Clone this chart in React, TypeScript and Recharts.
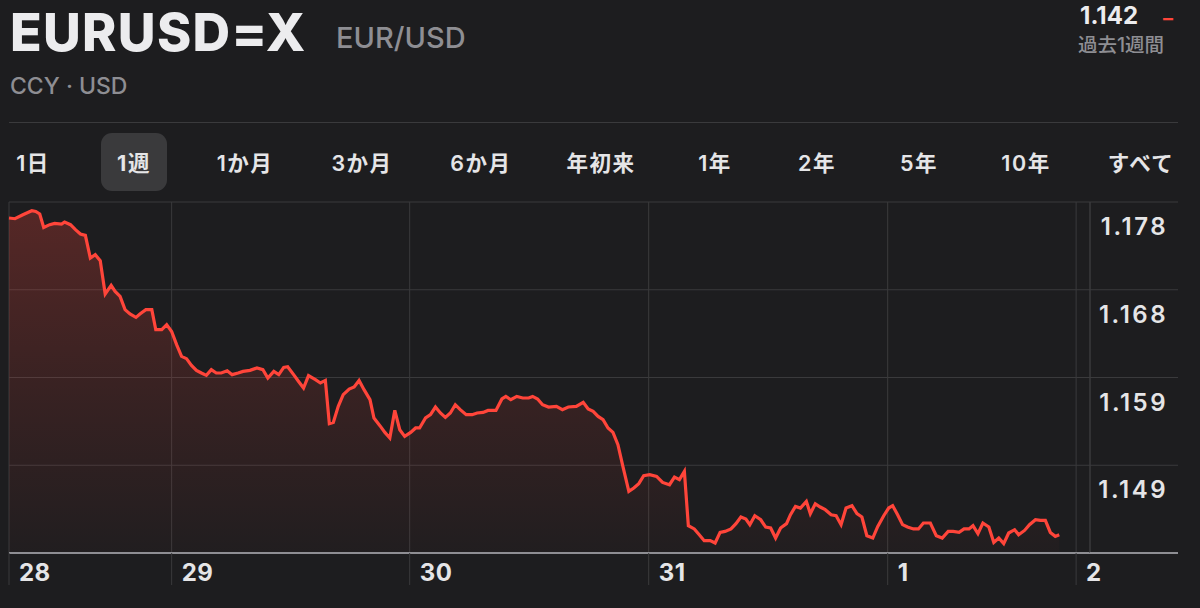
import { AreaChart, Area, XAxis, YAxis, CartesianGrid } from "recharts"

// hours since the first quote (28th, early morning)
const hours = [
  0.0, 0.6, 1.4, 2.3, 2.7, 3.1, 3.5, 4.1, 4.6, 5.3, 5.6, 6.2, 6.7, 7.2, 7.7, 8.2, 8.7, 9.2, 9.7, 10.3,
  10.7, 11.2, 11.7, 12.2, 12.8, 13.2, 13.8, 14.4, 14.8, 15.4, 15.9, 16.4, 16.9, 17.4, 17.9, 18.4, 18.9, 19.4, 19.9, 20.4,
  20.9, 21.4, 22.0, 22.5, 23.1, 23.6, 24.3, 25.0, 25.6, 26.1, 26.7, 27.2, 27.7, 28.1, 28.7, 29.2, 29.7, 30.2, 30.9, 31.4,
  31.9, 32.3, 32.7, 33.2, 33.7, 34.3, 34.8, 35.3, 35.8, 36.4, 36.8, 37.4, 37.9, 38.4, 38.9, 39.4, 39.9, 40.5, 41.0, 41.4,
  42.0, 42.5, 43.0, 43.5, 44.0, 44.5, 45.0, 45.5, 46.1, 46.7, 47.2, 47.8, 48.3, 49.1, 49.7, 50.1, 50.6, 51.2, 51.8, 52.4,
  52.8, 53.3, 53.8, 54.4, 55.2, 55.8, 56.4, 57.2, 57.9, 58.4, 58.9, 59.4, 59.9, 60.4, 60.9, 61.4, 61.9, 62.5, 63.0, 63.5,
  64.0, 64.6, 65.3, 65.9, 66.6, 67.1, 67.6, 68.1, 68.5, 69.1, 69.6, 70.1, 70.7, 71.2, 71.7, 72.2, 72.8, 73.3, 73.8, 74.3,
  74.7, 75.2, 75.8, 76.3, 76.8, 77.3, 77.8, 78.4, 78.8, 79.3, 79.8, 80.4, 80.8, 81.3, 81.8, 82.3, 82.9, 83.4, 83.9, 84.4,
  85.0, 85.5, 86.0, 86.5, 87.1, 87.6, 88.2, 88.7, 89.1, 89.6, 90.1, 90.6, 91.2, 91.7, 92.2, 92.9, 93.5, 94.1, 94.7, 95.2,
  95.8, 96.3, 96.8, 97.2, 97.7, 98.2, 98.8, 99.3, 99.8, 100.3, 100.8, 101.4, 101.8, 102.4, 102.9, 103.5, 104.0, 104.5, 105.0, 105.5,
  105.9,
]

const rates = [
  1.17625, 1.17617, 1.17661, 1.17705, 1.17697, 1.17669, 1.17522, 1.17552, 1.17566, 1.17559, 1.17581, 1.17552, 1.17497, 1.1745, 1.17435, 1.17187, 1.17223, 1.17158, 1.16794, 1.16888,
  1.16822, 1.16767, 1.16622, 1.16575, 1.16538, 1.16575, 1.16622, 1.16622, 1.16403, 1.16403, 1.16458, 1.16384, 1.16239, 1.16111, 1.16086, 1.16012, 1.15958, 1.15929, 1.15903, 1.15965,
  1.15929, 1.15929, 1.15954, 1.15911, 1.15929, 1.15947, 1.15958, 1.15984, 1.15965, 1.15875, 1.15947, 1.15911, 1.15991, 1.15998, 1.15911, 1.15837, 1.15765, 1.159, 1.15856, 1.1582,
  1.15848, 1.15375, 1.15389, 1.15564, 1.15692, 1.15754, 1.15776, 1.15848, 1.15747, 1.15637, 1.15437, 1.15353, 1.15279, 1.15218, 1.1552, 1.15309, 1.15236, 1.15279, 1.15328, 1.15328,
  1.15437, 1.15473, 1.15557, 1.15492, 1.15444, 1.15492, 1.15582, 1.15528, 1.15473, 1.15473, 1.15492, 1.15498, 1.1552, 1.1552, 1.15645, 1.15673, 1.15637, 1.15673, 1.15656, 1.15656,
  1.15673, 1.15645, 1.15582, 1.15557, 1.15564, 1.15528, 1.15557, 1.15564, 1.15608, 1.15535, 1.15509, 1.15454, 1.15418, 1.15328, 1.15279, 1.15145, 1.14907, 1.14634, 1.14671, 1.14718,
  1.14806, 1.14817, 1.14798, 1.14732, 1.14707, 1.14791, 1.14762, 1.14853, 1.14259, 1.14223, 1.1416, 1.14095, 1.14095, 1.14069, 1.14185, 1.14196, 1.14223, 1.14281, 1.14354, 1.14332,
  1.1427, 1.14368, 1.14324, 1.14244, 1.14234, 1.14124, 1.14234, 1.14281, 1.14379, 1.1447, 1.14452, 1.14525, 1.1439, 1.14499, 1.14463, 1.14434, 1.14379, 1.14368, 1.1427, 1.14452,
  1.14478, 1.1439, 1.14354, 1.14149, 1.14124, 1.14251, 1.14368, 1.14452, 1.14478, 1.14379, 1.1427, 1.14244, 1.14223, 1.14223, 1.14288, 1.14288, 1.14149, 1.14124, 1.14196, 1.14196,
  1.14185, 1.14223, 1.14223, 1.14259, 1.14171, 1.14288, 1.14244, 1.14076, 1.14124, 1.14062, 1.14179, 1.14215, 1.1416, 1.14207, 1.1427, 1.14324, 1.14317, 1.14317, 1.14185, 1.14142,
  1.1416,
]

const dayTicks = [0, 16.4, 40.4, 64.5, 88.6, 107.6]
const dayLabels = ["28", "29", "30", "31", "1", "2"]
const rateTicks = [1.1396, 1.1492, 1.1588, 1.1684, 1.178]

const ranges = ["1日", "1週", "1か月", "3か月", "6か月", "年初来", "1年", "2年", "5年", "10年", "すべて"]
const rangeCenters = [33, 134, 245, 362, 481, 601, 715, 817, 919, 1026, 1141]

const data = hours.map((t, i) => ({ t, rate: rates[i] }))

const FONT = "Inter, 'Noto Sans CJK JP', sans-serif"
const BG = "#1d1d1f"
const GRID = "#3a3a3c"
const RED = "#ff453a"

function DayTick(props: any) {
  const { x, y, payload } = props
  const label = dayLabels[dayTicks.indexOf(payload.value)]
  return (
    <g>
      <line x1={x} x2={x} y1={y} y2={y + 32} stroke={GRID} />
      <text x={x + 10} y={y + 28} fill="#e5e5e7" fontSize={24} fontWeight={700} fontFamily={FONT} letterSpacing={0.5}>
        {label}
      </text>
    </g>
  )
}

function RateTick(props: any) {
  const { x, y, payload } = props
  const isBase = payload.value === rateTicks[0]
  return (
    <g>
      <line
        x1={x}
        x2={x + 88}
        y1={y}
        y2={y}
        stroke={isBase ? "#8e8e93" : GRID}
        strokeWidth={isBase ? 2 : 1}
      />
      {!isBase && (
        <text x={x + 78} y={y + 33} textAnchor="end" fill="#e5e5e7" fontSize={24} fontWeight={600} fontFamily={FONT} letterSpacing={2.5}>
          {payload.value.toFixed(3)}
        </text>
      )}
    </g>
  )
}

function Header() {
  return (
    <svg width={1200} height={200} style={{ position: "absolute", left: 0, top: 0 }}>
      <text x={10} y={50.5} fill="#ececee" fontSize={52} fontWeight={800} fontFamily={FONT} letterSpacing={1.3}>
        EURUSD=X
      </text>
      <text x={336} y={48} fill="#8e8e93" fontSize={29} fontWeight={500} fontFamily={FONT}>
        EUR/USD
      </text>
      <text x={10} y={94} fill="#8e8e93" fontSize={23} fontWeight={500} fontFamily={FONT}>
        CCY · USD
      </text>
      <text x={1138} y={24} textAnchor="end" fill="#ececee" fontSize={24} fontWeight={700} fontFamily={FONT}>
        1.142
      </text>
      <text x={1163} y={25} fill={RED} fontSize={20} fontWeight={700} fontFamily={FONT}>
        –
      </text>
      <text x={1078} y={52} fill="#8e8e93" fontSize={19.5} fontWeight={500} fontFamily={FONT}>
        過去1週間
      </text>
      <line x1={9} x2={1178} y1={122.5} y2={122.5} stroke={GRID} />
      <rect x={101} y={133} width={66} height={58} rx={11} fill="#3a3a3c" />
      {ranges.map((r, i) => (
        <text
          key={r}
          x={rangeCenters[i]}
          y={171}
          textAnchor="middle"
          fill="#e5e5e7"
          fontSize={21.5}
          fontWeight={i === 1 ? 700 : 600}
          fontFamily={FONT}
          letterSpacing={1.5}
        >
          {r}
        </text>
      ))}
    </svg>
  )
}

export default function App() {
  return (
    <div style={{ position: "fixed", left: 0, top: 0, width: 1200, height: 608, background: BG, overflow: "hidden" }}>
      <Header />
      <div style={{ position: "absolute", left: 0, top: 0 }}>
        <AreaChart width={1200} height={608} data={data} margin={{ top: 202, right: 22, bottom: 0, left: 9 }}>
          <defs>
            <linearGradient id="redFill" x1="0" y1="0" x2="0" y2="1">
              <stop offset="0%" stopColor={RED} stopOpacity={0.42} />
              <stop offset="50%" stopColor={RED} stopOpacity={0.21} />
              <stop offset="100%" stopColor={RED} stopOpacity={0.03} />
            </linearGradient>
          </defs>
          <CartesianGrid stroke={GRID} />
          <XAxis
            type="number"
            dataKey="t"
            domain={[0, 109]}
            ticks={dayTicks}
            interval={0}
            height={55}
            tickSize={0}
            tickMargin={0}
            tickLine={false}
            axisLine={{ stroke: "#8e8e93", strokeWidth: 2 }}
            tick={<DayTick />}
          />
          <YAxis
            orientation="right"
            domain={[rateTicks[0], rateTicks[rateTicks.length - 1]]}
            ticks={rateTicks}
            interval={0}
            width={88}
            tickSize={0}
            tickMargin={0}
            tickLine={false}
            axisLine={{ stroke: GRID }}
            tick={<RateTick />}
          />
          <Area
            type="linear"
            dataKey="rate"
            stroke={RED}
            strokeWidth={3.2}
            fill="url(#redFill)"
            dot={false}
            activeDot={false}
            isAnimationActive={false}
          />
        </AreaChart>
      </div>
    </div>
  )
}
